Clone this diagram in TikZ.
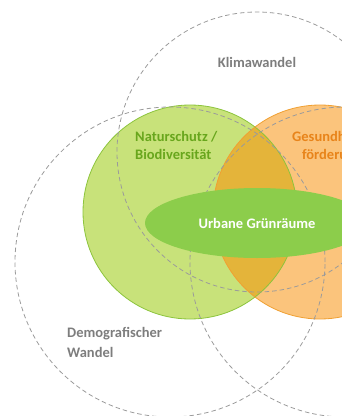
\documentclass[tikz,border=0pt]{standalone}
\usepackage{fontspec}
\setmainfont{Carlito}
\usetikzlibrary{positioning}
\definecolor{naturfill}{RGB}{200,226,122}
\definecolor{naturline}{RGB}{140,196,60}
\definecolor{naturtext}{RGB}{104,166,28}
\definecolor{gesundfill}{RGB}{251,196,124}
\definecolor{gesundline}{RGB}{240,160,50}
\definecolor{gesundtext}{RGB}{232,132,26}
\definecolor{overlapfill}{RGB}{228,180,58}
\definecolor{urbanfill}{RGB}{140,205,75}
\definecolor{ringgray}{RGB}{155,155,155}
\definecolor{labelgray}{RGB}{125,125,125}
\tikzset{
  ring/.style={draw=ringgray, line width=0.8pt, dash pattern=on 4.5pt off 3pt},
  labeltext/.style={font=\fontsize{14.5}{18}\selectfont\bfseries, inner sep=0pt}
}

\begin{document}
\begin{tikzpicture}[x=1pt,y=-1pt]
\useasboundingbox (0,0) rectangle (342,416);
\clip (0,0) rectangle (342,416);
\coordinate [] (N) at (190,212);
\coordinate [] (G) at (320,212);
\coordinate [] (K) at (257,152);
\coordinate [] (D) at (170,262);
\coordinate [] (R) at (345,262);
\coordinate [] (U) at (257,223);
% the two coloured fields
\fill[naturfill] (N) circle [radius=107pt];
\fill[gesundfill] (G) circle [radius=107pt];
\begin{scope}
\clip (N) circle [radius=107pt];
\fill[overlapfill] (G) circle [radius=107pt];
\end{scope}
\draw[naturline, line width=0.8pt] (N) circle [radius=107pt];
\draw[gesundline, line width=0.8pt] (G) circle [radius=107pt];
% dashed rings
\draw[ring] (K) circle [radius=140pt];
\draw[ring] (D) circle [radius=155pt];
\draw[ring] (R) circle [radius=155pt];
\fill[urbanfill] (U) ellipse [x radius=112pt, y radius=35pt];
% labels
\node[labeltext, text=labelgray] (klima) at (257,62) {Klimawandel};
\node[labeltext, text=naturtext, align=left, anchor=north west] (natur) at (135,131) {Naturschutz /\\Biodiversität};
\node[labeltext, text=gesundtext, align=center, anchor=north west] (gesund) at (292,131) {Gesundheits-\\förderung};
\node[labeltext, text=labelgray, align=left, anchor=north west, font=\fontsize{14.5}{20}\selectfont\bfseries] (demo) at (67,327) {Demografischer\\Wandel};
\node[labeltext, text=white] (urban) at (U) {Urbane Grünräume};
\end{tikzpicture}
\end{document}
